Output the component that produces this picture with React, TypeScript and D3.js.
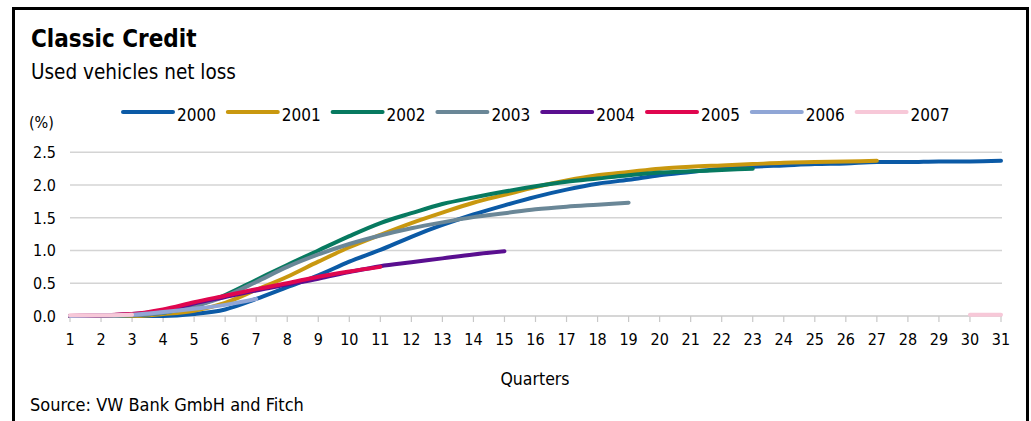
import React from "react";
import * as d3 from "d3";

const quarters: number[] = [1,2,3,4,5,6,7,8,9,10,11,12,13,14,15,16,17,18,19,20,21,22,23,24,25,26,27,28,29,30,31];
const yTicks: number[] = [0, 0.5, 1.0, 1.5, 2.0, 2.5];

const s2000: (number | null)[] = [0,0,0,0,0.03,0.1,0.26,0.44,0.62,0.83,1.01,1.21,1.39,1.55,1.69,1.82,1.93,2.02,2.08,2.15,2.2,2.25,2.28,2.3,2.32,2.33,2.35,2.35,2.36,2.36,2.37];
const s2001: (number | null)[] = [0,0,0,0.03,0.08,0.2,0.4,0.6,0.83,1.05,1.24,1.42,1.58,1.73,1.85,1.97,2.07,2.15,2.2,2.25,2.28,2.3,2.32,2.34,2.35,2.36,2.37];
const s2002: (number | null)[] = [0,0,0.01,0.05,0.15,0.32,0.55,0.78,1.0,1.22,1.42,1.57,1.71,1.81,1.9,1.98,2.05,2.1,2.15,2.19,2.21,2.23,2.25];
const s2003: (number | null)[] = [0,0,0.01,0.05,0.15,0.3,0.52,0.75,0.94,1.1,1.23,1.34,1.43,1.51,1.57,1.63,1.67,1.7,1.73];
const s2004: (number | null)[] = [0,0.01,0.03,0.08,0.19,0.29,0.39,0.48,0.57,0.67,0.76,0.82,0.88,0.94,0.99];
const s2005: (number | null)[] = [0,0.01,0.03,0.1,0.21,0.31,0.41,0.5,0.6,0.68,0.75];
const s2006: (number | null)[] = [0,0.01,0.02,0.06,0.11,0.17,0.26];
const s2007: (number | null)[] = [0.01,0.01,0.02,null,null,null,null,null,null,null,null,null,null,null,null,null,null,null,null,null,null,null,null,null,null,null,null,null,null,0.02,0.02];

const seriesNames: string[] = ["2000","2001","2002","2003","2004","2005","2006","2007"];
const seriesValues = [s2000, s2001, s2002, s2003, s2004, s2005, s2006, s2007];
const seriesColors: string[] = ["#0b5aa6","#c9980f","#077a60","#6a8797","#5a0f90","#e0064f","#90a6d6","#f7c8d8"];

const FONT = '"DejaVu Sans Condensed", "DejaVu Sans", sans-serif';
const cond = { fontStretch: "condensed" } as React.CSSProperties;

export default function App() {
  const W = 1031, H = 421;
  const x = d3.scaleLinear().domain([1, 31]).range([70, 1001]);
  const y = d3.scaleLinear().domain([0, 2.5]).range([316, 152.3]);

  const line = d3.line<{ q: number; v: number | null }>()
    .defined(d => d.v !== null)
    .x(d => x(d.q))
    .y(d => y(d.v as number))
    .curve(d3.curveMonotoneX);

  const legendX0 = 123, legendStep = 104.8, legendY = 112;

  return (
    <svg width={W} height={H} style={{ position: "absolute", left: 0, top: 0, background: "#fff" }} fontFamily={FONT}>
      <rect x={0} y={0} width={W} height={H} fill="#fff" />
      <rect x={13.5} y={8.5} width={1014} height={430} fill="none" stroke="#000" strokeWidth={3} />
      <text x={31} y={47} fontSize={24} fontWeight="bold" fill="#000" style={cond}>Classic Credit</text>
      <text x={31} y={79} fontSize={20.5} fill="#000" style={cond}>Used vehicles net loss</text>
      <text x={29} y={128} fontSize={16} fill="#000" style={cond}>(%)</text>

      {seriesNames.map((n, i) => (
        <g key={n}>
          <line x1={legendX0 + i * legendStep} x2={legendX0 + i * legendStep + 50} y1={legendY} y2={legendY}
            stroke={seriesColors[i]} strokeWidth={4} strokeLinecap="round" />
          <text x={legendX0 + i * legendStep + 54} y={legendY + 9} fontSize={17} fill="#000" style={cond}>{n}</text>
        </g>
      ))}

      {yTicks.map(t => (
        <g key={t}>
          {t > 0 && <line x1={70} x2={1002} y1={y(t)} y2={y(t)} stroke="#d4d4d4" strokeWidth={1.5} />}
          <text x={56} y={y(t)} dy="0.36em" textAnchor="end" fontSize={16} fill="#000" style={cond}>{t.toFixed(1)}</text>
        </g>
      ))}

      <line x1={70} x2={1002} y1={y(0)} y2={y(0)} stroke="#c8c8c8" strokeWidth={1.5} />
      {quarters.map(q => (
        <g key={q}>
          <line x1={x(q)} x2={x(q)} y1={y(0)} y2={y(0) + 6} stroke="#c8c8c8" strokeWidth={1.2} />
          <text x={x(q)} y={345} textAnchor="middle" fontSize={16} fill="#000" style={cond}>{q}</text>
        </g>
      ))}

      {seriesValues.map((vals, i) => (
        <path key={seriesNames[i]}
          d={line(vals.map((v, j) => ({ q: quarters[j], v }))) || ""}
          fill="none" stroke={seriesColors[i]} strokeWidth={4} strokeLinecap="round" strokeLinejoin="round" />
      ))}

      <text x={535} y={385} textAnchor="middle" fontSize={17.5} fill="#000" style={cond}>Quarters</text>
      <text x={30} y={411} fontSize={18} fill="#000" style={cond}>Source: VW Bank GmbH and Fitch</text>
    </svg>
  );
}
